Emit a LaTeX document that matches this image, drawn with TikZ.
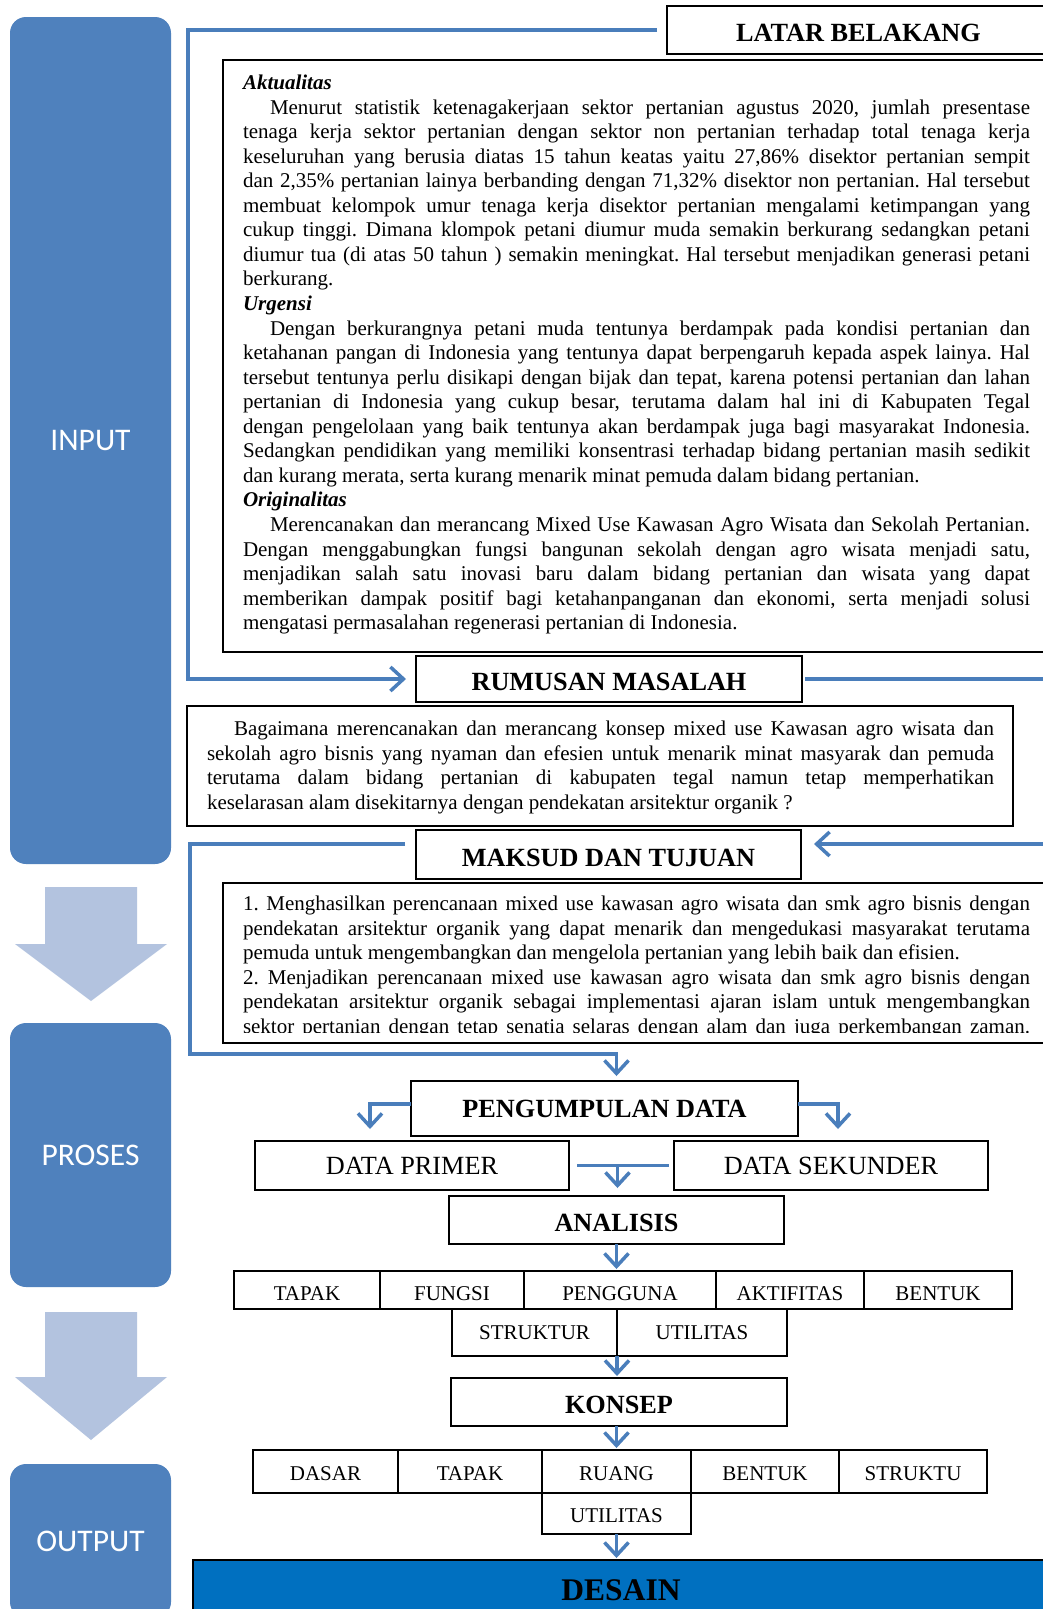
\documentclass[tikz,border=0pt]{standalone}
\usepackage{fontspec}
\setmainfont{Liberation Serif}
\newfontfamily\labelfont{Carlito}
\usetikzlibrary{arrows.meta,calc}
\tolerance=9999
\hyphenpenalty=10000
\frenchspacing

\definecolor{stageblue}{HTML}{4F81BD}
\definecolor{flowarrow}{HTML}{B3C3DF}
\definecolor{linkblue}{HTML}{4A7EBB}
\definecolor{designblue}{HTML}{0070C0}

\tikzset{
  stage/.style={fill=stageblue, draw=none, rounded corners=16pt, minimum width=161pt,
    inner sep=0pt, outer sep=0pt, text=white, font=\labelfont\fontsize{31.5}{36}\selectfont},
  titlebox/.style={draw=black, line width=1.3pt, fill=white, inner sep=0pt, outer sep=0pt,
    text height=23pt, text depth=0pt, font=\bfseries\fontsize{26.25}{30}\selectfont},
  plainbox/.style={draw=black, line width=1.3pt, fill=white, inner sep=0pt, outer sep=0pt,
    font=\fontsize{26.25}{30}\selectfont},
  cell/.style={draw=black, line width=1.3pt, fill=white, inner sep=0pt, outer sep=0pt,
    font=\fontsize{21}{24}\selectfont, text depth=0pt},
  textframe/.style={draw=black, line width=1.3pt, inner sep=0pt, outer sep=0pt, anchor=north west},
  bodytext/.style={inner sep=0pt, outer sep=0pt, anchor=north west, text width=787pt,
    align=justify, font=\fontsize{21}{24.55}\selectfont},
  link/.style={draw=linkblue, line width=3.5pt},
  linkto/.style={link, -{Straight Barb[length=13pt,width=24pt]}},
}

\begin{document}
\begin{tikzpicture}[x=1pt, y=-1pt]
\useasboundingbox (0,0) rectangle (1043,1609);
\clip (0,0) rectangle (1043,1609);
\fill[white] (0,0) rectangle (1043,1609);

% stage column on the left
\node[stage, minimum height=847pt] (input) at (90.5,440.5) {INPUT};
\node[stage, minimum height=264pt] (proses) at (90.5,1155) {PROSES};
\node[stage, minimum height=154pt] (output) at (90.5,1541) {OUTPUT};
\fill[flowarrow] (45,887) -- (137,887) -- (137,944) -- (167,944) -- (91,1001)
  -- (15,944) -- (45,944) -- cycle;
\fill[flowarrow] (45,1312) -- (137,1312) -- (137,1377) -- (167,1377) -- (91,1440)
  -- (15,1377) -- (45,1377) -- cycle;

% free ends and bends of the blue connectors
\coordinate (bendA) at (188,400);
\coordinate (edgeA) at (1050,677);
\coordinate (edgeB) at (1050,844);
\coordinate (bendB) at (190,1054);
\coordinate (primerTip) at (370,1129);
\coordinate (sekunderTip) at (838,1129);

% background section
\node[titlebox, minimum width=383pt, minimum height=48pt] (latar) at (858.5,30) {LATAR BELAKANG};
\node[textframe, minimum width=827pt, minimum height=592pt] (aktFrame) at (223,60) {};
\node[bodytext] (aktText) at (243,75) {%
\textbf{\textit{Aktualitas}}\par
\hspace*{27pt}Menurut statistik ketenagakerjaan sektor pertanian agustus 2020, jumlah presentase\linebreak
tenaga kerja sektor pertanian dengan sektor non pertanian terhadap total tenaga kerja\linebreak
keseluruhan yang berusia diatas 15 tahun keatas yaitu 27,86\% disektor pertanian sempit\linebreak
dan 2,35\% pertanian lainya berbanding dengan 71,32\% disektor non pertanian. Hal tersebut\linebreak
membuat kelompok umur tenaga kerja disektor pertanian mengalami ketimpangan yang\linebreak
cukup tinggi. Dimana klompok petani diumur muda semakin berkurang sedangkan petani\linebreak
diumur tua (di atas 50 tahun ) semakin meningkat. Hal tersebut menjadikan generasi petani\linebreak
berkurang.\par
\textbf{\textit{Urgensi}}\par
\hspace*{27pt}Dengan berkurangnya petani muda tentunya berdampak pada kondisi pertanian dan\linebreak
ketahanan pangan di Indonesia yang tentunya dapat berpengaruh kepada aspek lainya. Hal\linebreak
tersebut tentunya perlu disikapi dengan bijak dan tepat, karena potensi pertanian dan lahan\linebreak
pertanian di Indonesia yang cukup besar, terutama dalam hal ini di Kabupaten Tegal\linebreak
dengan pengelolaan yang baik tentunya akan berdampak juga bagi masyarakat Indonesia.\linebreak
Sedangkan pendidikan yang memiliki konsentrasi terhadap bidang pertanian masih sedikit\linebreak
dan kurang merata, serta kurang menarik minat pemuda dalam bidang pertanian.\par
\textbf{\textit{Originalitas}}\par
\hspace*{27pt}Merencanakan dan merancang Mixed Use Kawasan Agro Wisata dan Sekolah Pertanian.\linebreak
Dengan menggabungkan fungsi bangunan sekolah dengan agro wisata menjadi satu,\linebreak
menjadikan salah satu inovasi baru dalam bidang pertanian dan wisata yang dapat\linebreak
memberikan dampak positif bagi ketahanpanganan dan ekonomi, serta menjadi solusi\linebreak
mengatasi permasalahan regenerasi pertanian di Indonesia.};

% problem statement
\node[titlebox, minimum width=386pt, minimum height=46pt] (rumusan) at (609,679) {RUMUSAN MASALAH};
\node[textframe, minimum width=826pt, minimum height=120pt] (rumFrame) at (187,706) {};
\node[bodytext] (rumText) at (207,721) {%
\hspace*{27pt}Bagaimana merencanakan dan merancang konsep mixed use Kawasan agro wisata dan\linebreak
sekolah agro bisnis yang nyaman dan efesien untuk menarik minat masyarak dan pemuda\linebreak
terutama dalam bidang pertanian di kabupaten tegal namun tetap memperhatikan\linebreak
keselarasan alam disekitarnya dengan pendekatan arsitektur organik ?};

% aims
\node[titlebox, minimum width=385pt, minimum height=49pt] (maksud) at (608.5,854.5) {MAKSUD DAN TUJUAN};
\node[textframe, minimum width=827pt, minimum height=160pt] (tujuanFrame) at (223,883) {};
\begin{scope}
\clip (223,883) rectangle (1050,1032);
\node[bodytext] (tujuanText) at (243,896) {%
1. Menghasilkan perencanaan mixed use kawasan agro wisata dan smk agro bisnis dengan\linebreak
pendekatan arsitektur organik yang dapat menarik dan mengedukasi masyarakat terutama\linebreak
pemuda untuk mengembangkan dan mengelola pertanian yang lebih baik dan efisien.\par
2. Menjadikan perencanaan mixed use kawasan agro wisata dan smk agro bisnis dengan\linebreak
pendekatan arsitektur organik sebagai implementasi ajaran islam untuk mengembangkan\linebreak
sektor pertanian dengan tetap senatia selaras dengan alam dan juga perkembangan zaman.\parfillskip=0pt\par};
\end{scope}

% process chain
\node[titlebox, text height=17pt, minimum width=387pt, minimum height=55pt] (kumpul) at (604.5,1108.5) {PENGUMPULAN DATA};
\node[plainbox, minimum width=314pt, minimum height=49pt] (primer) at (412,1165.5) {DATA PRIMER};
\node[plainbox, minimum width=314pt, minimum height=49pt] (sekunder) at (831,1165.5) {DATA SEKUNDER};
\node[titlebox, minimum width=335pt, minimum height=48pt] (analisis) at (616.5,1220) {ANALISIS};

\begin{scope}[every node/.style={cell, minimum height=38pt, text height=20pt}]
\node[minimum width=146pt] (aTapak) at (307,1290) {TAPAK};
\node[minimum width=144pt] (aFungsi) at (452,1290) {FUNGSI};
\node[minimum width=192pt] (pengguna) at (620,1290) {PENGGUNA};
\node[minimum width=148pt] (aAktif) at (790,1290) {AKTIFITAS};
\node[minimum width=148pt] (aBentuk) at (938,1290) {BENTUK};
\end{scope}
\begin{scope}[every node/.style={cell, minimum height=47pt, text height=14pt}]
\node[minimum width=165pt] (struktur) at (534.5,1332.5) {STRUKTUR};
\node[minimum width=170pt] (aUtil) at (702,1332.5) {UTILITAS};
\end{scope}

\node[titlebox, minimum width=336pt, minimum height=48pt] (konsep) at (619,1402) {KONSEP};

\begin{scope}[every node/.style={cell, minimum height=43pt, text height=18pt}]
\node[minimum width=145pt] (kDasar) at (325.5,1471.5) {DASAR};
\node[minimum width=144pt] (kTapak) at (470,1471.5) {TAPAK};
\node[minimum width=149pt] (ruang) at (616.5,1471.5) {RUANG};
\node[minimum width=148pt] (kBentuk) at (765,1471.5) {BENTUK};
\node[minimum width=148pt] (kStruktur) at (913,1471.5) {STRUKTU};
\end{scope}
\node[cell, minimum width=149pt, minimum height=41pt, text height=18pt] (utilB) at (616.5,1513.5) {UTILITAS};

\node[draw=black, line width=1.3pt, fill=designblue, inner sep=0pt, outer sep=0pt,
  minimum width=856pt, minimum height=60pt, font=\bfseries\fontsize{31.5}{36}\selectfont]
  (desain) at (621,1590) {DESAIN};

% blue connectors
\draw[linkto] ([xshift=-10pt]latar.west) -| (bendA) |- ([xshift=-10pt]rumusan.west);
\draw[link] ([xshift=3pt]rumusan.east) -- (rumusan.east -| edgeA);
\draw[linkto] (edgeB) -- ([xshift=13pt,yshift=10.5pt]maksud.east);
\draw[linkto] ([xshift=-11pt,yshift=10.5pt]maksud.west) -| (bendB) -| ([xshift=12pt,yshift=5pt]kumpul.north);
\draw[linkto] ([yshift=4.5pt]kumpul.west) -| (primerTip);
\draw[linkto] ([yshift=4.5pt]kumpul.east) -| (sekunderTip);
\draw[link] ([xshift=8pt]primer.east) -- ([xshift=-5pt]sekunder.west);
\coordinate (joinDP) at ($(primer.east)!0.5!(sekunder.west)$);
\draw[linkto, shorten >=8pt] ([xshift=-4pt]joinDP) -- ([xshift=-4pt]joinDP |- analisis.north);
\draw[linkto, shorten >=2pt] (analisis.south) -- (analisis.south |- pengguna.north);
\draw[linkto, shorten >=2pt] (struktur.south east) -- (struktur.south east |- konsep.north);
\draw[linkto, shorten >=2pt] (konsep.south -| ruang.north) -- (ruang.north);
\draw[linkto, shorten >=2pt] (utilB.south) -- (utilB.south |- desain.north);
\end{tikzpicture}
\end{document}
